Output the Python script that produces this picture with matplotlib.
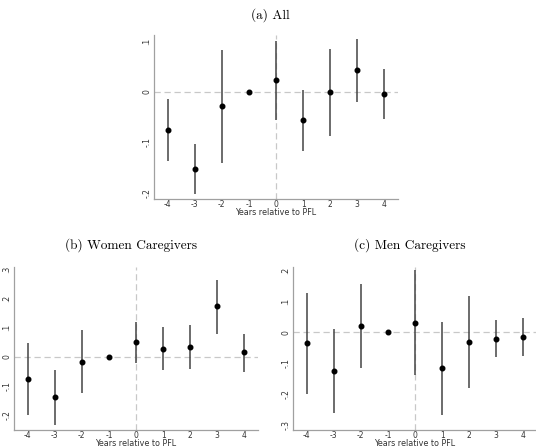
import matplotlib
matplotlib.use("Agg")
import matplotlib.pyplot as plt
import numpy as np

years = [-4, -3, -2, -1, 0, 1, 2, 3, 4]
xtick_labels = ["-4", "-3", "-2", "-1", "0", "1", "2", "3", "4"]

# (a) All
all_est = [-0.076, -0.153, -0.029, 0.0, 0.022, -0.057, -0.001, 0.042, -0.005]
all_lo = [-0.137, -0.203, -0.141, 0.0, -0.057, -0.118, -0.087, -0.020, -0.054]
all_hi = [-0.014, -0.104, 0.083, 0.0, 0.101, 0.003, 0.084, 0.105, 0.045]
all_yticks = [0.1, 0.0, -0.1, -0.2]
all_ytick_labels = [".1", "0", "-.1", "-.2"]

# (b) Women caregivers
women_est = [-0.075, -0.140, -0.017, 0.0, 0.050, 0.028, 0.035, 0.173, 0.015]
women_lo = [-0.199, -0.234, -0.125, 0.0, -0.020, -0.045, -0.041, 0.080, -0.051]
women_hi = [0.048, -0.046, 0.093, 0.0, 0.118, 0.102, 0.111, 0.264, 0.080]
women_yticks = [0.3, 0.2, 0.1, 0.0, -0.1, -0.2]
women_ytick_labels = [".3", ".2", ".1", "0", "-.1", "-.2"]

# (c) Men caregivers
men_est = [-0.035, -0.124, 0.021, 0.0, 0.032, -0.115, -0.030, -0.020, -0.015]
men_lo = [-0.197, -0.260, -0.115, 0.0, -0.136, -0.265, -0.180, -0.080, -0.077]
men_hi = [0.128, 0.011, 0.157, 0.0, 0.200, 0.034, 0.119, 0.039, 0.045]
men_yticks = [0.2, 0.1, 0.0, -0.1, -0.2, -0.3]
men_ytick_labels = [".2", ".1", "0", "-.1", "-.2", "-.3"]

W, H = 536, 447
fig = plt.figure(figsize=(W / 100, H / 100), dpi=100)


def box(l, t, r, b):
    return [l / W, 1 - b / H, (r - l) / W, (b - t) / H]


def panel(rect, est, lo, hi, ylim, yticks, ylabels):
    ax = fig.add_axes(rect)
    ax.axhline(0, color="#c8c8c8", lw=0.9, ls=(0, (5, 3)), zorder=1)
    ax.axvline(0, color="#c8c8c8", lw=0.9, ls=(0, (5, 3)), zorder=1)
    ax.vlines(years, lo, hi, color="#444444", lw=1.1, zorder=2)
    ax.plot(years, est, "o", color="black", ms=3.3, zorder=3)
    ax.set_xlim(-4.5, 4.5)
    ax.set_ylim(*ylim)
    ax.set_xticks(years)
    ax.set_xticklabels(xtick_labels)
    ax.set_yticks(yticks)
    ax.set_yticklabels(ylabels, rotation=90, va="center")
    for s in ["top", "right"]:
        ax.spines[s].set_visible(False)
    for s in ["left", "bottom"]:
        ax.spines[s].set_color("#a0a0a0")
        ax.spines[s].set_linewidth(0.9)
    ax.tick_params(length=0, labelsize=5.5, colors="#333333")
    ax.tick_params(axis="x", pad=0.8)
    ax.tick_params(axis="y", pad=2)
    ax.set_xlabel("Years relative to PFL", fontsize=5.8, color="#333333", labelpad=-0.8)
    return ax


panel(box(154, 35, 398, 199), all_est, all_lo, all_hi, (-0.2125, 0.112),
      all_yticks, all_ytick_labels)
panel(box(14, 267, 258, 429.5), women_est, women_lo, women_hi, (-0.2505, 0.309),
      women_yticks, women_ytick_labels)
panel(box(293, 267, 537, 429.5), men_est, men_lo, men_hi, (-0.313, 0.211),
      men_yticks, men_ytick_labels)

tfont = dict(family="cmr10", fontsize=9.6, ha="center", va="center")
fig.text(270 / W, 1 - 15 / H, "(a) All", **tfont)
fig.text(131 / W, 1 - 245 / H, "(b) Women Caregivers", **tfont)
fig.text(410 / W, 1 - 245 / H, "(c) Men Caregivers", **tfont)

fig.savefig("out.png", dpi=100)
